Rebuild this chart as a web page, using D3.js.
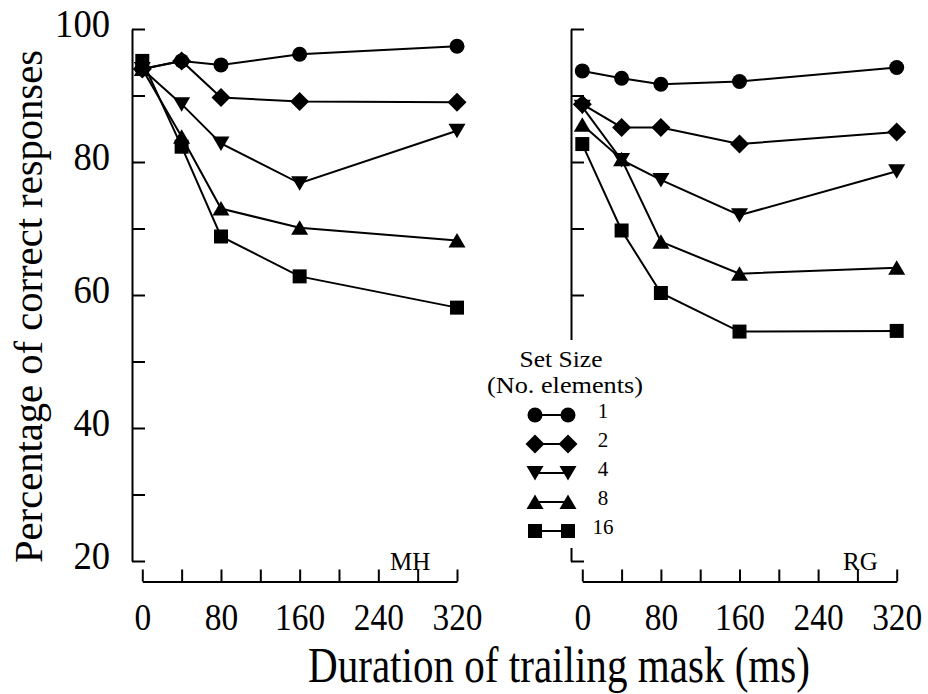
<!DOCTYPE html>
<html>
<head>
<meta charset="utf-8">
<script src="https://cdn.jsdelivr.net/npm/d3@7"></script>
<style>
  html, body { margin: 0; padding: 0; background: #fff; }
  svg { display: block; }
  svg text { font-family: "Liberation Serif", "Tinos", "Times New Roman", "DejaVu Serif", serif; fill: #000; }
</style>
</head>
<body>
<svg id="chart" width="928" height="694"></svg>
<script>
// ---- data ----
const durations = [0, 40, 80, 160, 320];
const setSizes = ["1", "2", "4", "8", "16"];
const shapes = ["circle", "diamond", "triDown", "triUp", "square"];

const mhSet1  = [94.0, 95.2, 94.6, 96.2, 97.4];
const mhSet2  = [94.0, 95.2, 89.7, 89.1, 89.0];
const mhSet4  = [94.0, 88.7, 82.8, 76.8, 84.7];
const mhSet8  = [94.0, 83.8, 73.0, 70.1, 68.2];
const mhSet16 = [95.2, 82.3, 68.8, 62.8, 58.1];

const rgSet1  = [93.7, 92.6, 91.7, 92.1, 94.2];
const rgSet2  = [88.7, 85.2, 85.2, 82.7, 84.5];
const rgSet4  = [88.3, 80.3, 77.3, 72.0, 78.6];
const rgSet8  = [85.6, 80.4, 68.0, 63.2, 64.1];
const rgSet16 = [82.7, 69.7, 60.3, 54.5, 54.6];

const yTickValues = [20, 30, 40, 50, 60, 70, 80, 90, 100];
const yLabelValues = [20, 40, 60, 80, 100];
const xTickValues = [0, 40, 80, 120, 160, 200, 240, 280, 320];
const xLabelValues = [0, 80, 160, 240, 320];

const panels = [
  { name: "MH", series: [mhSet1, mhSet2, mhSet4, mhSet8, mhSet16] },
  { name: "RG", series: [rgSet1, rgSet2, rgSet4, rgSet8, rgSet16] }
];

// ---- layout ----
const svg = d3.select("#chart");
const y = d3.scaleLinear().domain([20, 100]).range([561, 29]);
const layout = [
  { axisX: 132, x0: 142.3, x1: 457, labels: true, tagX: 390 },
  { axisX: 571, x0: 582.3, x1: 896.7, labels: false, tagX: 843 }
];
const xAxisY = 581.5;

function shapePath(kind) {
  const p = d3.path();
  switch (kind) {
    case "circle": p.arc(0, 0, 7.5, 0, 2 * Math.PI); break;
    case "diamond": p.moveTo(0, -9.5); p.lineTo(9.5, 0); p.lineTo(0, 9.5); p.lineTo(-9.5, 0); p.closePath(); break;
    case "triDown": p.moveTo(-8.5, -7); p.lineTo(8.5, -7); p.lineTo(0, 7.5); p.closePath(); break;
    case "triUp": p.moveTo(-8.5, 7); p.lineTo(8.5, 7); p.lineTo(0, -7.5); p.closePath(); break;
    case "square": p.rect(-7, -7, 14, 14); break;
  }
  return p.toString();
}

panels.forEach((panel, pi) => {
  const L = layout[pi];
  const x = d3.scaleLinear().domain([0, 320]).range([L.x0, L.x1]);

  // y axis
  const yAxis = d3.axisLeft(y)
    .tickValues(yTickValues)
    .tickSizeInner(-13)
    .tickSizeOuter(0)
    .tickPadding(22)
    .tickFormat(d => (L.labels && yLabelValues.includes(d)) ? d : "");
  const gy = svg.append("g").attr("transform", `translate(${L.axisX},0)`).call(yAxis);
  gy.attr("font-family", null);
  gy.select(".domain").attr("stroke", "#000").attr("stroke-width", 2);
  gy.selectAll(".tick line").attr("stroke", "#000").attr("stroke-width", 2);
  gy.selectAll(".tick text").filter(function () { return !d3.select(this).text(); }).remove();
  gy.selectAll(".tick text")
    .attr("font-size", 40)
    .attr("dy", null)
    .attr("y", 7)
    .each(function () {
      const t = d3.select(this).text();
      d3.select(this).attr("textLength", t.length * 18.3).attr("lengthAdjust", "spacingAndGlyphs");
    });

  // x axis
  const xAxis = d3.axisBottom(x)
    .tickValues(xTickValues)
    .tickSizeInner(-12)
    .tickSizeOuter(0)
    .tickPadding(0)
    .tickFormat(d => xLabelValues.includes(d) ? d : "");
  const gx = svg.append("g").attr("transform", `translate(0,${xAxisY})`).call(xAxis);
  gx.attr("font-family", null);
  gx.select(".domain").attr("stroke", "#000").attr("stroke-width", 2);
  gx.selectAll(".tick line").attr("stroke", "#000").attr("stroke-width", 2);
  gx.selectAll(".tick text").filter(function () { return !d3.select(this).text(); }).remove();
  gx.selectAll(".tick text")
    .attr("font-size", 38)
    .attr("dy", null)
    .attr("y", 48.5)
    .each(function () {
      const t = d3.select(this).text();
      d3.select(this).attr("textLength", t.length * 16.7).attr("lengthAdjust", "spacingAndGlyphs");
    });

  // panel tag
  svg.append("text")
    .attr("x", L.tagX).attr("y", 570)
    .attr("font-size", 25)
    .text(panel.name);

  // series
  const line = d3.line().x((d, i) => x(durations[i])).y(d => y(d));
  panel.series.forEach((vals, si) => {
    const g = svg.append("g");
    g.append("path")
      .attr("d", line(vals))
      .attr("fill", "none")
      .attr("stroke", "#000")
      .attr("stroke-width", 2);
    g.selectAll("path.m")
      .data(vals)
      .join("path")
      .attr("class", "m")
      .attr("d", shapePath(shapes[si]))
      .attr("transform", (d, i) => `translate(${x(durations[i])},${y(d)})`)
      .attr("fill", "#000");
  });
});

// ---- legend ----
const legend = svg.append("g");
legend.append("rect")
  .attr("x", 484).attr("y", 340).attr("width", 162).attr("height", 208)
  .attr("fill", "#fff");
legend.append("text")
  .attr("x", 561).attr("y", 367)
  .attr("text-anchor", "middle")
  .attr("font-size", 24)
  .attr("textLength", 83).attr("lengthAdjust", "spacingAndGlyphs")
  .text("Set Size");
legend.append("text")
  .attr("x", 565).attr("y", 393)
  .attr("text-anchor", "middle")
  .attr("font-size", 24)
  .attr("textLength", 156).attr("lengthAdjust", "spacingAndGlyphs")
  .text("(No. elements)");

setSizes.forEach((s, i) => {
  const ry = 415 + i * 29;
  const row = legend.append("g");
  row.append("line")
    .attr("x1", 535).attr("x2", 568).attr("y1", ry).attr("y2", ry)
    .attr("stroke", "#000").attr("stroke-width", 2);
  [535, 568].forEach(mx => {
    row.append("path")
      .attr("d", shapePath(shapes[i]))
      .attr("transform", `translate(${mx},${ry})`)
      .attr("fill", "#000");
  });
  row.append("text")
    .attr("x", 603).attr("y", ry + 3)
    .attr("text-anchor", "middle")
    .attr("font-size", 21)
    .text(s);
});

// ---- axis titles ----
svg.append("text")
  .attr("transform", "translate(42,306.5) rotate(-90)")
  .attr("text-anchor", "middle")
  .attr("font-size", 40)
  .attr("textLength", 513).attr("lengthAdjust", "spacingAndGlyphs")
  .text("Percentage of correct responses");

svg.append("text")
  .attr("x", 559).attr("y", 682)
  .attr("text-anchor", "middle")
  .attr("font-size", 50)
  .attr("textLength", 502).attr("lengthAdjust", "spacingAndGlyphs")
  .text("Duration of trailing mask (ms)");
</script>
</body>
</html>
